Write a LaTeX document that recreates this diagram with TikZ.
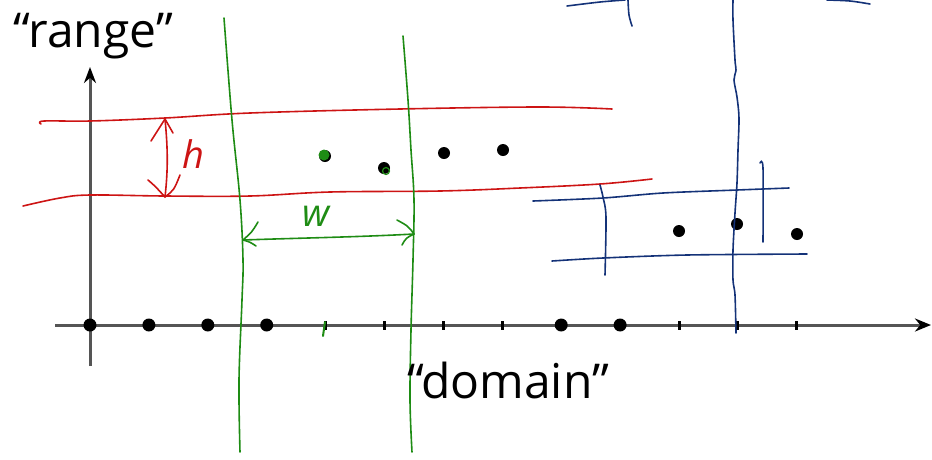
\documentclass[tikz,border=0pt]{standalone}
\usepackage{fontspec}
\setmainfont{Open Sans}
\usetikzlibrary{arrows.meta}
\definecolor{axisgray}{RGB}{85,85,85}
\definecolor{hred}{RGB}{205,20,20}
\definecolor{hgreen}{RGB}{30,140,20}
\definecolor{hblue}{RGB}{20,50,120}
\begin{document}
\begin{tikzpicture}[x=1pt,y=-1pt,
  axis/.style={line width=3pt, draw=axisgray},
  dot/.style={circle, fill=black, inner sep=0pt, minimum size=13pt},
  tickmark/.style={line width=3pt, draw=black},
  redline/.style={draw=hred, line width=1.6pt, line cap=round, line join=round},
  greenline/.style={draw=hgreen, line width=1.6pt, line cap=round, line join=round},
  blueline/.style={draw=hblue, line width=1.6pt, line cap=round},
  biglabel/.style={font=\fontsize{48}{54}\selectfont, inner sep=0pt, anchor=base west}]
\useasboundingbox (0,0) rectangle (932,459);

% axes
\coordinate (xs) at (55,325); \coordinate (xe) at (931,325);
\coordinate (ys) at (90,366); \coordinate (ye) at (90,67);
\draw[axis, -{Stealth[length=16pt,width=13pt,color=black]}] (xs) -- (xe);
\draw[axis, -{Stealth[length=16pt,width=12pt,color=black]}] (ys) -- (ye);

% ticks and dots on the x axis
\foreach \i in {4,5,6,7,10,11,12}{
  \coordinate (ta\i) at ({90+58.9*\i},321);
  \coordinate (tb\i) at ({90+58.9*\i},330);
  \draw[tickmark] (ta\i) -- (tb\i);
}
\foreach \i in {0,1,2,3,8,9}{
  \node[dot] (a\i) at ({90+58.9*\i},325) {};
}
\coordinate (gt1) at (325,322); \coordinate (gt2) at (323,336);
\draw[greenline, line width=2pt] (gt1) -- (gt2);

% data points
\node[dot, minimum size=12pt] (p1) at (325,156) {};
\node[dot, minimum size=12pt] (p2) at (384,168) {};
\node[dot, minimum size=12pt] (p3) at (444,153) {};
\node[dot, minimum size=12pt] (p4) at (503,150) {};
\node[dot, minimum size=12pt] (p5) at (679,231) {};
\node[dot, minimum size=12pt] (p6) at (737,224) {};
\node[dot, minimum size=12pt] (p7) at (797,234) {};
% green scribbles over points
\fill[hgreen] (324,155) circle (5.5pt);
\draw[greenline, line width=1.2pt] (386,171) circle (3.5pt);

% red band
\draw[redline] plot[smooth, tension=0.6] coordinates {(41,124) (44,121) (90,121) (165,118) (250,113) (400,109) (540,107) (612,109)};
\draw[redline] plot[smooth, tension=0.6] coordinates {(23,206) (60,198) (90,195) (165,196) (250,196) (330,192) (440,191) (520,188) (600,184) (652,179)};
\coordinate (ht) at (165,119); \coordinate (hb) at (165,197);
\draw[redline] (ht) .. controls (168,150) and (168,170) .. (hb);
\draw[redline] (151,141) .. controls (158,130) .. (ht) .. controls (169,126) .. (173,133);
\draw[redline] (148,180) .. controls (155,186) .. (hb) .. controls (174,190) .. (180,175);
\node[text=hred, font=\fontsize{38}{40}\selectfont\itshape, inner sep=0pt] (hl) at (193,154) {h};

% green band
\draw[greenline] plot[smooth, tension=0.6] coordinates {(224,18) (232,120) (240,200) (243,260) (242,300) (239,380) (240,452)};
\draw[greenline] plot[smooth, tension=0.6] coordinates {(403,36) (408,100) (411,150) (414,200) (413,260) (411,330) (410,400) (412,452)};
\coordinate (wl) at (243,240); \coordinate (wr) at (414,234);
\draw[greenline] (wl) .. controls (300,238) and (360,237) .. (wr);
\draw[greenline] (258,222) .. controls (252,232) .. (wl) .. controls (250,242) .. (256,246);
\draw[greenline] (397,220) .. controls (408,226) .. (wr) .. controls (406,238) .. (402,245);
\node[text=hgreen, font=\fontsize{38}{40}\selectfont\itshape, inner sep=0pt] (wlab) at (316,216) {w};

% blue lines
\draw[blueline] plot[smooth] coordinates {(567,6) (600,2) (625,0)};
\draw[blueline] plot[smooth] coordinates {(628,0) (629,15) (632,26)};
\draw[blueline] plot[smooth] coordinates {(827,0) (850,1) (870,4)};
\draw[blueline] plot[smooth, tension=0.5] coordinates {(733,0) (733,20) (735,60) (736,70) (734,80) (737,97) (739,118) (738,150) (737,183) (735,213) (733,250) (733,280) (735,295) (736,333)};
\draw[blueline] plot[smooth] coordinates {(533,201) (603,198) (663,193) (737,190) (789,188)};
\draw[blueline] plot[smooth] coordinates {(552,261) (603,258) (687,255) (807,254)};
\draw[blueline] plot[smooth] coordinates {(600,185) (603,197) (606,217) (605,275)};
\draw[blueline] plot[smooth] coordinates {(760,163) (763,168) (763,242)};

% labels
\node[biglabel] (range) at (13,47) {“range”};
\node[biglabel] (domain) at (407,398) {“domain”};
\end{tikzpicture}
\end{document}
